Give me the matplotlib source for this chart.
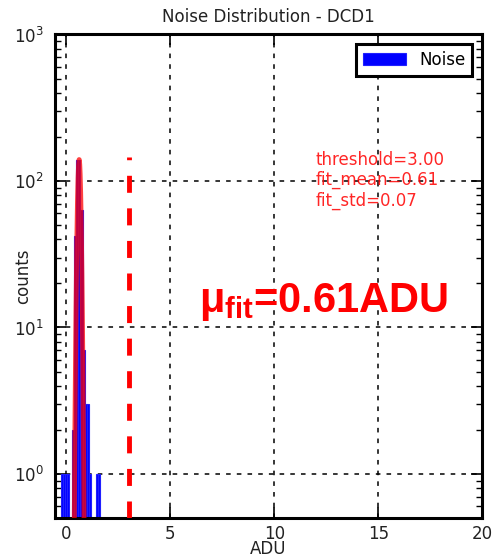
import numpy as np
import matplotlib
matplotlib.use('Agg')
import matplotlib.pyplot as plt

plt.rcParams['font.family'] = ['DejaVu Sans']
plt.rcParams['mathtext.fontset'] = 'custom'
plt.rcParams['mathtext.rm'] = 'Liberation Sans'
plt.rcParams['mathtext.bf'] = 'Liberation Sans:bold'

# histogram of noise (bin width 0.105 ADU)
bin_width = 0.105
bin_left = [-0.275, -0.17, -0.065, 0.04, 0.145, 0.25, 0.355, 0.46, 0.565,
            0.67, 0.775, 0.88, 0.985, 1.09, 1.195, 1.30, 1.405, 1.51]
counts = [1, 1, 1, 1, 0, 2, 42, 138, 140, 63, 7, 3, 3, 1, 0, 0, 1, 1]

threshold = 3.00
fit_mean = 0.61
fit_std = 0.07
fit_amp = 140.0

fig = plt.figure(figsize=(4.96, 5.59), dpi=100)
ax = fig.add_axes([0.111, 0.0733, 0.861, 0.865])

ax.bar(bin_left, counts, width=bin_width, align='edge', color='#0000ff',
       edgecolor='#2020ff', linewidth=0.8, label='Noise', zorder=2)

xf = np.linspace(-0.3, 1.6, 400)
yf = fit_amp * np.exp(-(xf - fit_mean) ** 2 / (2 * fit_std ** 2))
ax.plot(xf, yf, color='red', lw=3.5, alpha=0.75, zorder=3)

ax.vlines(threshold, 0.5, max(counts) * 1.04, colors='red', linestyles=(0, (3.5, 3.2)),
          lw=3.5, zorder=3)

ax.set_yscale('log')
ax.set_xlim(-0.55, 20)
ax.set_ylim(0.5, 1000)
ax.set_xticks([0, 5, 10, 15, 20])

ax.grid(True, which='major', color='black', linestyle=(0, (3, 4)), lw=1.1, zorder=1)
ax.set_axisbelow(True)
for s in ax.spines.values():
    s.set_linewidth(2.2)
ax.tick_params(which='both', direction='in', top=True, right=True, labelsize=12,
               colors='black')
ax.tick_params(which='major', length=8, width=1.2, pad=8)
ax.tick_params(axis='x', which='major', pad=5)
ax.tick_params(which='minor', length=4, width=1.0)
for lab in ax.get_xticklabels() + ax.get_yticklabels():
    lab.set_color('#222222')

ax.set_title('Noise Distribution - DCD1', fontsize=12, color='#222222', pad=9)
ax.set_xlabel('ADU', fontsize=12, color='#222222')
ax.set_ylabel('counts', fontsize=12, color='#222222')
ax.xaxis.set_label_coords(0.5, -0.046)
ax.yaxis.set_label_coords(-0.054, 0.5)

leg = ax.legend(loc='upper right', fontsize=12, fancybox=False, framealpha=1,
                handlelength=2.6, borderpad=0.4, borderaxespad=0.6)
leg.get_frame().set_edgecolor('black')
leg.get_frame().set_linewidth(2.2)

ax.text(12.0, 160, 'threshold=%.2f\nfit_mean=%.2f\nfit_std=%.2f' % (threshold, fit_mean, fit_std),
        color='red', alpha=0.85, fontsize=12, va='top', ha='left', linespacing=1.15)

ax.text(6.4, 12.8, r'$\mathbf{μ_{fit}}$' + '=%.2fADU' % fit_mean, color='red', fontsize=30,
        fontfamily='Liberation Sans', fontweight='bold', ha='left', va='baseline')

fig.savefig('out.png', dpi=100)
